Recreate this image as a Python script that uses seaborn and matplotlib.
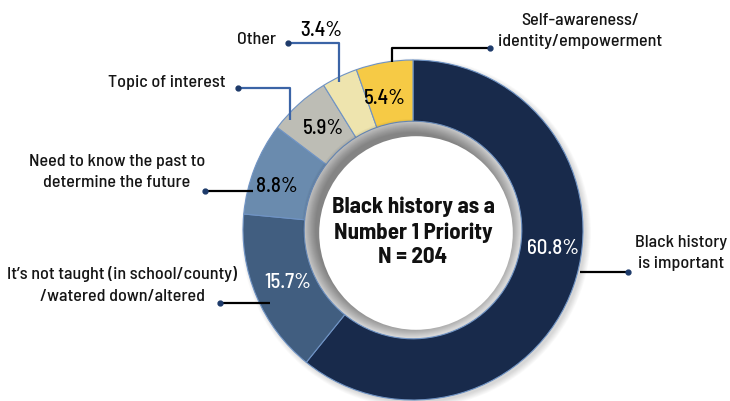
import matplotlib
matplotlib.use("Agg")
import matplotlib.pyplot as plt
from matplotlib import font_manager
import seaborn as sns
import numpy as np

categories = ["Black history is important",
              "It's not taught (in school/county) /watered down/altered",
              "Need to know the past to determine the future",
              "Topic of interest", "Other",
              "Self-awareness/ identity/empowerment"]
values = [60.8, 15.7, 8.8, 5.9, 3.4, 5.4]
pct_labels = ["60.8%", "15.7%", "8.8%", "5.9%", "3.4%", "5.4%"]
colors = ["#182a4b", "#415e80", "#6a8bae", "#bdbdb5", "#eee4ae", "#f6ca45"]

sns.set_theme(style="white")
names = {f.name for f in font_manager.fontManager.ttflist}
fam = "DejaVu Sans"
for cand in ["Barlow Semi Condensed", "Roboto Condensed", "Fira Sans Condensed",
             "Archivo Narrow", "PT Sans Narrow", "Open Sans Condensed"]:
    if cand in names:
        fam = cand
        break
plt.rcParams["font.family"] = [fam, "DejaVu Sans"]

W, H = 730, 401
fig = plt.figure(figsize=(7.3, 4.01), dpi=100)
ax = fig.add_axes([0, 0, 1, 1])

cx, cy, R = 413, H - 230, 170

# soft outer drop shadow
for i in range(8):
    ax.add_patch(plt.Circle((cx + 3, cy - 3), R + 5 - i * 0.8, color="black",
                            alpha=0.02, lw=0, zorder=0))

wedges, _ = ax.pie(values, colors=colors, startangle=90, counterclock=False,
                   center=(cx, cy), radius=R, frame=True,
                   wedgeprops=dict(width=R * 0.36, edgecolor="#6f93c4", linewidth=0.8))
ax.set_xlim(0, W)
ax.set_ylim(0, H)
ax.set_aspect("equal")
ax.axis("off")

# inner shadow
rin = R * 0.64
for i in range(14):
    ax.add_patch(plt.Circle((cx - 2, cy + 2), rin - i * 1.0, color="black",
                            alpha=0.03, lw=0))
ax.add_patch(plt.Circle((cx + 3, cy - 3), rin - 12, color="white", lw=0))

def Y(y):
    return H - y

fs_pct = 15
pct_pos = [(553, 248, "white"), (288, 282, "white"), (277, 186, "black"),
           (323, 128, "black"), (321, 31, "black"), (385, 98, "black")]
for lab, (x, y, col) in zip(pct_labels, pct_pos):
    ax.text(x, Y(y), lab, color=col, fontsize=fs_pct, ha="center", va="center",
            fontweight=500)

ax.text(cx, Y(232), "Black history as a\nNumber 1 Priority\nN = 204", ha="center",
        va="center", fontsize=16.5, fontweight="bold", linespacing=1.3, color="#111111")

fs = 13
ls = 1.55
blue = "#3b64a6"
tc = "#151515"
def leader(pts, col):
    xs = [p[0] for p in pts]
    ys = [Y(p[1]) for p in pts]
    ax.plot(xs, ys, color=col, lw=1.6, solid_capstyle="butt")
    ax.plot(xs[-1], ys[-1], "o", color="#1d3a6a", ms=3.5)

kw = dict(ha="center", va="center", fontsize=fs, fontweight=500, color=tc)
ax.text(580, Y(31), "Self-awareness/\nidentity/empowerment", linespacing=ls, **kw)
leader([(392, 62), (392, 48), (490, 48)], "black")
ax.text(257, Y(40), "Other", **kw)
leader([(339, 82), (339, 43), (288, 43)], blue)
ax.text(167, Y(82), "Topic of interest", **kw)
leader([(290, 120), (290, 88), (238, 88)], blue)
ax.text(117, Y(172), "Need to know the past to\ndetermine the future", linespacing=ls, **kw)
leader([(253, 191), (205, 191)], "black")
ax.text(122, Y(285), "It\u2019s not taught (in school/county)\n/watered down/altered",
        linespacing=ls, **kw)
leader([(270, 303), (220, 303)], "black")
ax.text(681, Y(253), "Black history\nis important", linespacing=ls, **kw)
leader([(580, 272), (628, 272)], "black")

fig.savefig("out.png", dpi=100)
